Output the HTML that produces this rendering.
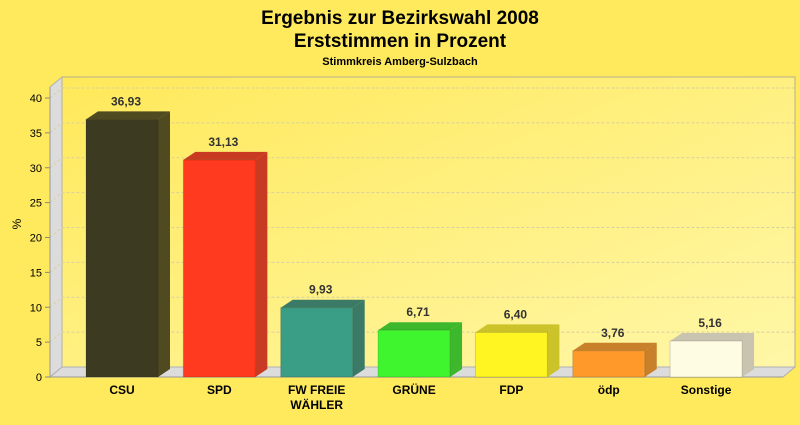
<!DOCTYPE html>
<html><head><meta charset="utf-8"><style>
body{margin:0;width:800px;height:420px;overflow:hidden;background:#FFE95C;font-family:"Liberation Sans",sans-serif}
</style></head><body>
<svg width="800" height="420" xmlns="http://www.w3.org/2000/svg">
<defs>
<linearGradient id="bg" x1="0" y1="0" x2="1" y2="1"><stop offset="0" stop-color="#FFE95A"/><stop offset="1" stop-color="#FFF7A8"/></linearGradient>
</defs>
<text x="400" y="24" text-anchor="middle" font-size="19" font-weight="bold">Ergebnis zur Bezirkswahl 2008</text>
<text x="400" y="47" text-anchor="middle" font-size="19" font-weight="bold">Erststimmen in Prozent</text>
<text x="400" y="65" text-anchor="middle" font-size="11" font-weight="bold">Stimmkreis Amberg-Sulzbach</text>
<g id="plot"></g>
<text transform="translate(21,224) rotate(-90)" text-anchor="middle" font-size="12">%</text>
</svg>
<script>
const categories=["CSU","SPD","FW FREIE|WÄHLER","GRÜNE","FDP","ödp","Sonstige"];
const values=[36.93,31.13,9.93,6.71,6.40,3.76,5.16];
const labels=["36,93","31,13","9,93","6,71","6,40","3,76","5,16"];
const ticks=[0,5,10,15,20,25,30,35,40];
const colors=["#3D3A22","#FF3A1E","#3A9E86","#3EF52E","#FFF523","#FF9A2A","#FFFCE4"];
const side=["#504A20","#C83A22","#3A7A66","#3DB82C","#CCC22A","#C8802A","#C8C4B0"];
const NS="http://www.w3.org/2000/svg";
const g=document.getElementById('plot');
const X0=50,XR=783,Y0=377,DX=12,DY=10,K=(377-98)/40;
const y=v=>Y0-v*K;
const xc=i=>122+i*97.35;
function mk(t,a,name){const e=document.createElementNS(NS,t);for(const k in a)e.setAttribute(k,a[k]);


g.appendChild(e);return e;}
// back wall
mk('polygon',{points:`${X0+DX},${y(42)-DY+3} ${XR+DX},${y(42)-DY+3} ${XR+DX},${Y0-DY} ${X0+DX},${Y0-DY}`,fill:'url(#bg)',stroke:'#B8B090','stroke-width':1},'back-wall');
mk('polygon',{points:`${X0},${y(42)+3} ${X0+DX},${y(42)-DY+3} ${X0+DX},${Y0-DY} ${X0},${Y0}`,fill:'#DCDCDC',stroke:'#B0B0B0'},'left-wall');
mk('polygon',{points:`${X0},${Y0} ${X0+DX},${Y0-DY} ${XR+DX},${Y0-DY} ${XR},${Y0}`,fill:'#DCDCDC',stroke:'#B0B0B0'},'floor');
ticks.forEach(t=>{
 if(t>0){mk('polyline',{points:`${X0},${y(t)} ${X0+DX},${y(t)-DY} ${XR+DX},${y(t)-DY}`,fill:'none',stroke:'#D8D0A0','stroke-dasharray':'3,2'},'gridline');}
 mk('line',{x1:X0-5,x2:X0,y1:y(t),y2:y(t),stroke:'#888'},'y-tick');
 const tx=mk('text',{x:X0-8,y:y(t)+4,'text-anchor':'end','font-size':11},'y-tick-label');tx.textContent=t;
});
mk('line',{x1:X0,x2:X0,y1:y(42)+3,y2:Y0,stroke:'#999'},'y-axis');
mk('line',{x1:X0,x2:XR,y1:Y0,y2:Y0,stroke:'#999'},'x-axis');
const W=72;
values.forEach((v,i)=>{
 const l=xc(i)-W/2,r=l+W,t=y(v);
 mk('polygon',{points:`${r},${t} ${r+DX},${t-DY+2} ${r+DX},${Y0-DY+2} ${r},${Y0}`,fill:side[i]},'bar-side');
 mk('polygon',{points:`${l},${t} ${l+DX},${t-DY+2} ${r+DX},${t-DY+2} ${r},${t}`,fill:side[i]},'bar-top');
 mk('rect',{x:l,y:t,width:W,height:Y0-t,fill:colors[i],stroke:'rgba(0,0,0,0.15)'},'bar-'+categories[i].split('|')[0].toLowerCase().replace(/\s/g,'-'));
 const lb=mk('text',{x:xc(i)+4,y:t-14,'text-anchor':'middle','font-size':12,'font-weight':'bold',fill:'#333'},'value-label');lb.textContent=labels[i];
 categories[i].split('|').forEach((s,j)=>{const c=mk('text',{x:xc(i),y:394+j*15,'text-anchor':'middle','font-size':12,'font-weight':'bold'},'x-tick-label');c.textContent=s;});
});
</script>
</body></html>
